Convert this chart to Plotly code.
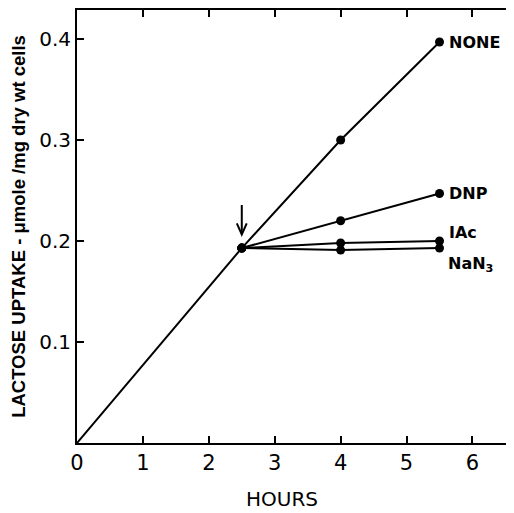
import plotly.graph_objects as go

# data
base_x = [0, 2.5]
base_y = [0, 0.193]
none_x = [2.5, 4, 5.5]
none_y = [0.193, 0.300, 0.397]
dnp_x = [2.5, 4, 5.5]
dnp_y = [0.193, 0.220, 0.247]
iac_x = [2.5, 4, 5.5]
iac_y = [0.193, 0.198, 0.200]
nan3_x = [2.5, 4, 5.5]
nan3_y = [0.193, 0.191, 0.193]
x_ticks = [0, 1, 2, 3, 4, 5, 6]
x_ticklabels = ["0", "1", "2", "3", "4", "5", "6"]
y_ticks = [0.1, 0.2, 0.3, 0.4]
y_ticklabels = ["0.1", "0.2", "0.3", "0.4"]

fig = go.Figure()
line = dict(color="black", width=2)
fig.add_trace(go.Scatter(x=base_x, y=base_y, mode="lines", line=line, showlegend=False))
for xs, ys in [(none_x, none_y), (dnp_x, dnp_y), (iac_x, iac_y), (nan3_x, nan3_y)]:
    fig.add_trace(go.Scatter(x=xs, y=ys, mode="lines+markers", line=line,
                             marker=dict(color="black", size=9), showlegend=False))

lab_font = dict(family="DejaVu Sans", size=16, color="black")
fig.add_annotation(x=none_x[-1], y=none_y[-1], text="<b>NONE</b>", showarrow=False,
                   xanchor="left", xshift=7, font=lab_font)
fig.add_annotation(x=dnp_x[-1], y=dnp_y[-1], text="<b>DNP</b>", showarrow=False,
                   xanchor="left", xshift=7, font=lab_font)
fig.add_annotation(x=iac_x[-1], y=iac_y[-1], text="<b>IAc</b>", showarrow=False,
                   xanchor="left", xshift=7, yshift=8, font=lab_font)
fig.add_annotation(x=nan3_x[-1], y=nan3_y[-1], text="<b>NaN<sub>3</sub></b>", showarrow=False,
                   xanchor="left", xshift=6, yshift=-16, font=lab_font)
# arrow
fig.add_annotation(x=2.5, y=0.2075, ax=0, ay=-30, text="", showarrow=True,
                   arrowhead=0, arrowwidth=2, arrowcolor="black",
                   axref="pixel", ayref="pixel")
fig.add_shape(type="path", path="M 2.425,0.2175 L 2.5,0.2065 L 2.575,0.2175",
              line=dict(color="black", width=2))

fig.add_annotation(x=(282 - 77) / 437, y=0, xref="paper", yref="paper",
                   yshift=-69, text="HOURS", showarrow=False, yanchor="bottom",
                   borderpad=0,
                   font=dict(family="DejaVu Sans", size=20, color="black"))

fig.update_layout(
    width=506, height=505,
    margin=dict(l=69, r=0, t=2, b=70),
    plot_bgcolor="white", paper_bgcolor="white",
    font=dict(family="DejaVu Sans", color="black"),
)
fig.update_xaxes(range=[0, 6.63], tickvals=x_ticks, ticktext=x_ticklabels,
                 ticks="inside", ticklen=7, tickwidth=2, tickcolor="black",
                 showline=True, linecolor="black", linewidth=2, mirror="ticks",
                 showgrid=False, zeroline=False, automargin=False,
                 tickfont=dict(size=21, family="DejaVu Sans"))
fig.update_yaxes(range=[0, 0.4287], tickvals=y_ticks, ticktext=y_ticklabels,
                 ticks="inside", ticklen=7, tickwidth=2, tickcolor="black",
                 showline=True, linecolor="black", linewidth=2, mirror="ticks",
                 showgrid=False, zeroline=False, automargin=False,
                 tickfont=dict(size=20, family="DejaVu Sans"),
                 title=dict(text="<b>LACTOSE UPTAKE - μmole /mg dry wt cells</b>",
                            font=dict(size=18.5, family="Liberation Sans"), standoff=12))

fig.write_html("out.html")
